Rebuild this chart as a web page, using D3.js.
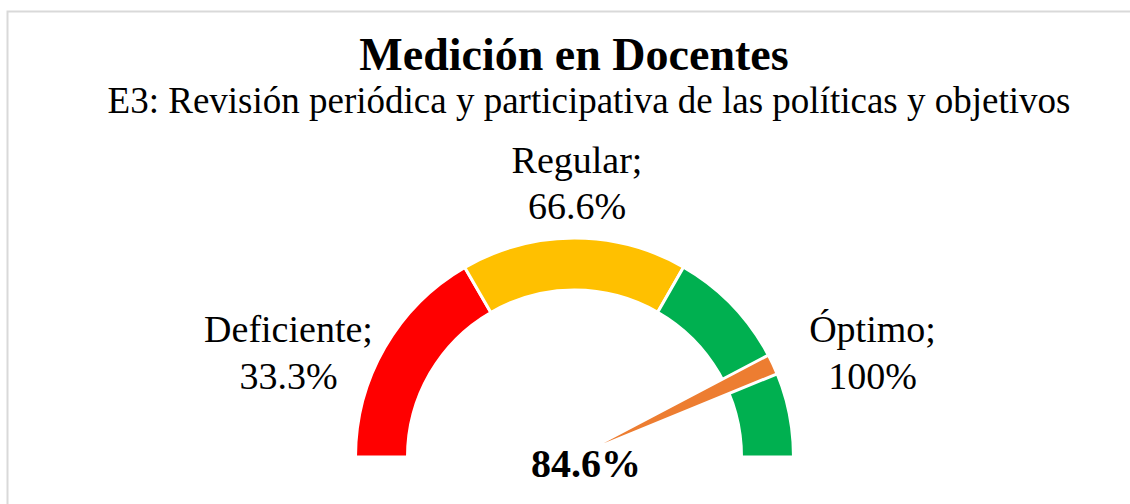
<!DOCTYPE html>
<html>
<head>
<meta charset="utf-8">
<script src="https://cdn.jsdelivr.net/npm/d3@7"></script>
<style>
  body { margin: 0; background: #fff; }
  text { font-family: "Liberation Serif", "Times New Roman", serif; fill: #000; }
</style>
</head>
<body>
<script>
// gauge data
let bands = ['Deficiente', 'Regular', 'Óptimo'];
let bandLimits = [0, 33.3, 66.6, 100];
let bandLabels = ['33.3%', '66.6%', '100%'];
let bandColors = ['#ff0000', '#ffc000', '#00b050'];
let score = 84.6;
let pointerWidth = 3;

let title = 'Medición en Docentes';
let subtitle = 'E3: Revisión periódica y participativa de las políticas y objetivos';

let width = 1130, height = 504;
let cx = 574.5, cy = 457;
let outerRadius = 219, innerRadius = 167;

let svg = d3.select('body').append('svg').attr('width', width).attr('height', height);

// chart area border (cut off on the right and bottom)
svg.append('rect')
  .attr('x', 7.5).attr('y', 11.5)
  .attr('width', width).attr('height', height)
  .attr('fill', 'none').attr('stroke', '#d9d9d9').attr('stroke-width', 2);

svg.append('text').attr('x', 574).attr('y', 70).attr('text-anchor', 'middle')
  .style('font-size', '46px').style('font-weight', 'bold').text(title);
svg.append('text').attr('x', 589).attr('y', 113).attr('text-anchor', 'middle')
  .style('font-size', '37px').text(subtitle);

let angle = d3.scaleLinear().domain([0, 100]).range([-Math.PI / 2, Math.PI / 2]);

let g = svg.append('g').attr('transform', 'translate(' + cx + ',' + cy + ')');

let arc = d3.arc().innerRadius(innerRadius).outerRadius(outerRadius);

let segs = bands.map(function(b, i) {
  return { name: b, startAngle: angle(bandLimits[i]), endAngle: angle(bandLimits[i + 1]), color: bandColors[i] };
});

g.selectAll('path.band').data(segs).enter().append('path')
  .attr('class', 'band')
  .attr('d', arc)
  .attr('fill', function(d) { return d.color; })
  .attr('stroke', '#fff').attr('stroke-width', 3);

// pointer: thin pie wedge from the centre to the outer edge
let pointer = d3.arc().innerRadius(0).outerRadius(outerRadius);
g.append('path')
  .attr('d', pointer({ startAngle: angle(score), endAngle: angle(score + pointerWidth) }))
  .attr('fill', '#ed7d31')
  .attr('stroke', '#fff').attr('stroke-width', 3);

// labels: offsets from the gauge centre
let labelPos = [
  { dx: -286, y1: 342, y2: 389 },
  { dx: 2.5, y1: 173, y2: 219 },
  { dx: 298, y1: 342, y2: 389 }
];

bands.forEach(function(b, i) {
  let t = svg.append('text').attr('text-anchor', 'middle').style('font-size', '38px');
  t.append('tspan').attr('x', cx + labelPos[i].dx).attr('y', labelPos[i].y1).text(b + ';');
  t.append('tspan').attr('x', cx + labelPos[i].dx).attr('y', labelPos[i].y2).text(bandLabels[i]);
});

svg.append('text').attr('x', cx + 11.5).attr('y', 477).attr('text-anchor', 'middle')
  .style('font-size', '40px').style('font-weight', 'bold')
  .text(d3.format('.1f')(score) + '%');
</script>
</body>
</html>
